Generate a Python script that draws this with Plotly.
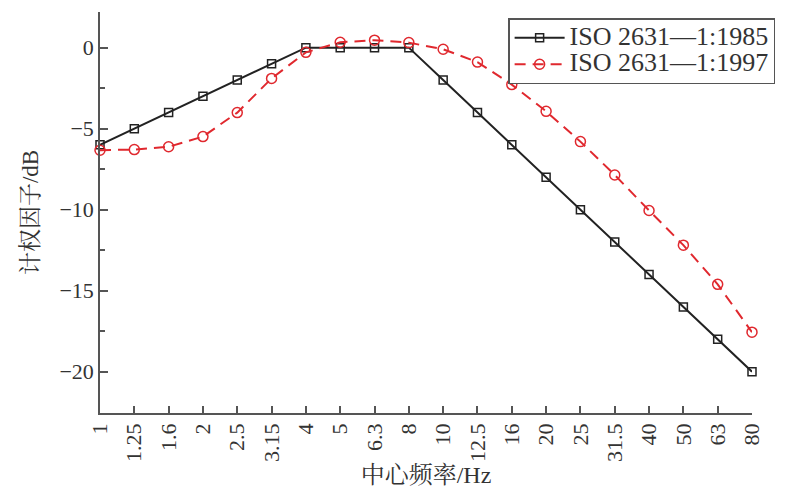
import plotly.graph_objects as go

freq_labels = ["1", "1.25", "1.6", "2", "2.5", "3.15", "4", "5", "6.3", "8",
               "10", "12.5", "16", "20", "25", "31.5", "40", "50", "63", "80"]
iso1985 = [-6, -5, -4, -3, -2, -1, 0, 0, 0, 0,
           -2, -4, -6, -8, -10, -12, -14, -16, -18, -20]
iso1997 = [-6.33, -6.29, -6.12, -5.49, -4.01, -1.90, -0.29, 0.33, 0.46, 0.31,
           -0.10, -0.89, -2.28, -3.93, -5.80, -7.86, -10.05, -12.19, -14.61, -17.56]
y_ticks = [-20, -15, -10, -5, 0]
series_names = ["ISO 2631—1:1985", "ISO 2631—1:1997"]

xi = list(range(len(freq_labels)))
FONT = "Liberation Serif, Times New Roman, Noto Serif CJK SC, Noto Sans CJK SC, serif"
TXT = "#333333"
AX = "#555555"
RED = "#e0282e"


def legend_label(s):
    return "<span style='font-size:26px'>" + s + "</span>"


fig = go.Figure()
fig.add_trace(go.Scatter(
    x=xi, y=iso1985, mode="lines+markers", name=legend_label(series_names[0]),
    line=dict(color="#222222", width=2),
    marker=dict(symbol="square-open", size=8, color="#222222",
                line=dict(width=1.5, color="#222222")),
    cliponaxis=False,
))
fig.add_trace(go.Scatter(
    x=xi, y=iso1997, mode="lines+markers", name=legend_label(series_names[1]),
    line=dict(color=RED, width=2, dash="11px,7px"),
    marker=dict(symbol="circle-open", size=10, color=RED,
                line=dict(width=1.5, color=RED)),
    cliponaxis=False,
))

fig.update_layout(
    width=779, height=483,
    margin=dict(l=92, r=35, t=4, b=78, autoexpand=False),
    paper_bgcolor="white", plot_bgcolor="white",
    font=dict(family=FONT, size=22, color=TXT),
    showlegend=True,
    legend=dict(xref="container", yref="container",
                x=0.642, y=0.979, xanchor="left", yanchor="top",
                bgcolor="white", bordercolor=AX, borderwidth=1.5,
                font=dict(family=FONT, size=18, color=TXT),
                tracegroupgap=0, itemwidth=50),
)
fig.update_xaxes(
    range=[0, len(freq_labels) - 1],
    tickmode="array", tickvals=xi, ticktext=freq_labels, tickangle=-90,
    ticks="inside", ticklen=7, tickcolor=AX, tickwidth=1.5,
    showline=True, linecolor=AX, linewidth=1.5, mirror=False,
    showgrid=False, zeroline=False, automargin=False,
    tickfont=dict(family=FONT, size=22, color=TXT),
    title=dict(text="中心频率/Hz", font=dict(family=FONT, size=24, color=TXT), standoff=2),
)
fig.update_yaxes(
    range=[-22.55, 2.2],
    tickmode="array", tickvals=y_ticks,
    ticks="inside", ticklen=8, tickcolor=AX, tickwidth=1.5,
    minor=dict(tickmode="linear", tick0=0, dtick=2.5, ticks="inside", ticklen=5,
               tickcolor=AX, tickwidth=1.5, showgrid=False),
    showline=True, linecolor=AX, linewidth=1.5, mirror=False,
    showgrid=False, zeroline=False, automargin=False,
    tickfont=dict(family=FONT, size=22, color=TXT),
    title=dict(text="计权因子/dB", font=dict(family=FONT, size=23, color=TXT), standoff=14),
)

fig.write_html("out.html")
